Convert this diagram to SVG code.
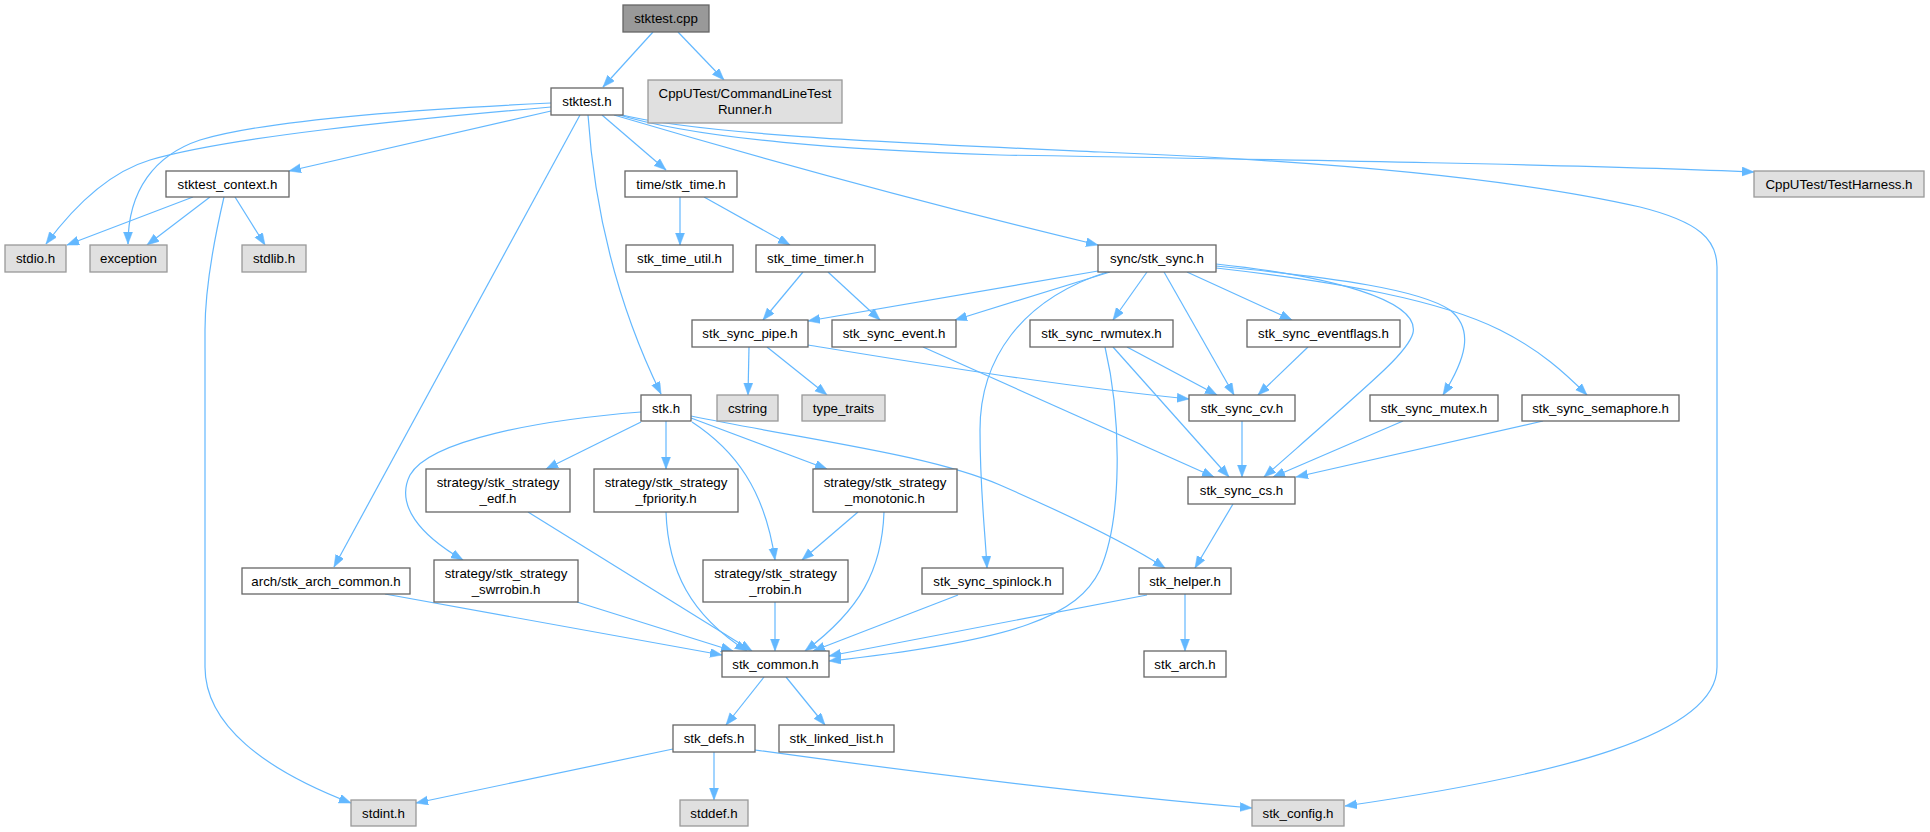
<svg xmlns="http://www.w3.org/2000/svg" width="1930" height="832" viewBox="0 0 1930 832">
<style>
text{font-family:"Liberation Sans",Arial,sans-serif;font-size:13.3px;text-anchor:middle;fill:#000}
.n rect{fill:#fff;stroke:#666;stroke-width:1.3}
.x rect{fill:#e0e0e0;stroke:#999;stroke-width:1.3}
.r rect{fill:#999;stroke:#666;stroke-width:1.3}
#edges path{fill:none;stroke:#63b8ff;stroke-width:1.2;marker-end:url(#a)}
</style>
<defs>
<marker id="a" markerUnits="userSpaceOnUse" markerWidth="13" markerHeight="10" refX="12" refY="4.5" orient="auto">
<path d="M0,0 L12,4.5 L0,9 z" fill="#63b8ff" stroke="#63b8ff" stroke-width="0.5"/>
</marker>
</defs>
<rect width="1930" height="832" fill="#fff"/>
<g id="edges">
<path d="M653,32 L603,87"/>
<path d="M678,32 L724,80"/>
<path d="M551,103 C400,110 260,122 200,140 C155,155 128,190 128,244"/>
<path d="M551,107 C400,120 230,137 150,160 C110,172 75,205 46,244"/>
<path d="M551,111 L289,171"/>
<path d="M580,115 L334,567"/>
<path d="M588,115 C595,220 620,310 661,394"/>
<path d="M602,115 L666,170"/>
<path d="M614,115 C800,170 960,212 1098,245"/>
<path d="M616,114 C700,140 850,150 1000,155 C1300,160 1600,165 1754,172"/>
<path d="M618,114 C700,135 900,143 1100,152 C1300,160 1500,175 1640,207 C1700,222 1717,240 1717,267 L1717,667 C1717,735 1560,775 1345,806"/>
<path d="M193,197 L67,245"/>
<path d="M210,197 L147,245"/>
<path d="M235,197 L265,245"/>
<path d="M224,197 C214,240 205,290 205,330 L205,667 C205,725 265,770 351,803"/>
<path d="M680,197 L680,245"/>
<path d="M704,197 L790,245"/>
<path d="M803,272 L763,320"/>
<path d="M828,272 L880,320"/>
<path d="M1098,271 L808,321"/>
<path d="M1110,272 L955,320"/>
<path d="M1147,272 L1113,320"/>
<path d="M1164,272 L1234,395"/>
<path d="M1187,272 L1292,320"/>
<path d="M1216,264 C1330,276 1420,300 1413,333 C1408,352 1380,375 1264,477"/>
<path d="M1216,266 C1340,278 1420,290 1450,310 C1475,330 1465,360 1443,395"/>
<path d="M1216,268 C1340,282 1440,300 1500,330 C1540,350 1565,373 1587,395"/>
<path d="M1107,272 C1020,300 980,360 980,430 C980,490 985,530 987,568"/>
<path d="M749,347 L748,395"/>
<path d="M767,347 L827,395"/>
<path d="M808,345 C900,360 1050,385 1189,399"/>
<path d="M923,347 L1214,477"/>
<path d="M1127,347 L1217,395"/>
<path d="M1113,347 L1229,477"/>
<path d="M1105,347 C1122,420 1122,520 1100,570 C1078,615 1020,640 829,661"/>
<path d="M1308,347 L1258,395"/>
<path d="M1242,421 L1242,477"/>
<path d="M1403,421 L1273,477"/>
<path d="M1543,421 L1296,477"/>
<path d="M1233,504 L1195,568"/>
<path d="M641,412 C540,420 430,440 410,475 C395,505 420,535 463,560"/>
<path d="M641,422 L546,469"/>
<path d="M666,421 L666,469"/>
<path d="M692,422 C735,450 765,490 775,560"/>
<path d="M691,418 L827,469"/>
<path d="M691,416 C820,442 930,455 1000,485 C1080,520 1130,545 1165,568"/>
<path d="M528,512 L752,651"/>
<path d="M666,512 C668,570 690,615 747,651"/>
<path d="M858,512 L802,560"/>
<path d="M884,512 C882,570 860,610 805,651"/>
<path d="M775,602 L775,651"/>
<path d="M577,602 L733,651"/>
<path d="M385,594 L722,655"/>
<path d="M958,595 L813,651"/>
<path d="M1147,595 L829,656"/>
<path d="M1185,594 L1185,651"/>
<path d="M764,677 L726,725"/>
<path d="M786,677 L825,725"/>
<path d="M714,752 L714,800"/>
<path d="M673,749 L416,803"/>
<path d="M755,750 C900,770 1100,795 1252,808"/>
</g>
<g id="n_stktest_cpp" class="r"><rect x="623" y="5" width="86" height="27"/><text x="666" y="23">stktest.cpp</text></g>
<g id="n_stktest_h" class="n"><rect x="551" y="88" width="72" height="27"/><text x="587" y="106">stktest.h</text></g>
<g id="n_cltr" class="x"><rect x="648" y="80" width="194" height="43"/><text x="745" y="98.3">CppUTest/CommandLineTest</text><text x="745" y="114.3">Runner.h</text></g>
<g id="n_context" class="n"><rect x="166" y="171" width="123" height="26"/><text x="227.5" y="188.5">stktest_context.h</text></g>
<g id="n_time" class="n"><rect x="625" y="171" width="112" height="26"/><text x="681" y="188.5">time/stk_time.h</text></g>
<g id="n_harness" class="x"><rect x="1754" y="171" width="170" height="26"/><text x="1839" y="188.5">CppUTest/TestHarness.h</text></g>
<g id="n_stdio" class="x"><rect x="5" y="245" width="61" height="27"/><text x="35.5" y="263">stdio.h</text></g>
<g id="n_exception" class="x"><rect x="90" y="245" width="77" height="27"/><text x="128.5" y="263">exception</text></g>
<g id="n_stdlib" class="x"><rect x="242" y="245" width="64" height="27"/><text x="274" y="263">stdlib.h</text></g>
<g id="n_time_util" class="n"><rect x="626" y="245" width="107" height="27"/><text x="679.5" y="263">stk_time_util.h</text></g>
<g id="n_time_timer" class="n"><rect x="756" y="245" width="119" height="27"/><text x="815.5" y="263">stk_time_timer.h</text></g>
<g id="n_sync" class="n"><rect x="1098" y="245" width="118" height="27"/><text x="1157" y="263">sync/stk_sync.h</text></g>
<g id="n_pipe" class="n"><rect x="692" y="320" width="116" height="27"/><text x="750" y="338">stk_sync_pipe.h</text></g>
<g id="n_event" class="n"><rect x="832" y="320" width="124" height="27"/><text x="894" y="338">stk_sync_event.h</text></g>
<g id="n_rwmutex" class="n"><rect x="1030" y="320" width="143" height="27"/><text x="1101.5" y="338">stk_sync_rwmutex.h</text></g>
<g id="n_eventflags" class="n"><rect x="1247" y="320" width="153" height="27"/><text x="1323.5" y="338">stk_sync_eventflags.h</text></g>
<g id="n_stk" class="n"><rect x="641" y="395" width="50" height="26"/><text x="666" y="412.5">stk.h</text></g>
<g id="n_cstring" class="x"><rect x="717" y="395" width="61" height="26"/><text x="747.5" y="412.5">cstring</text></g>
<g id="n_type_traits" class="x"><rect x="802" y="395" width="83" height="26"/><text x="843.5" y="412.5">type_traits</text></g>
<g id="n_cv" class="n"><rect x="1189" y="395" width="106" height="26"/><text x="1242" y="412.5">stk_sync_cv.h</text></g>
<g id="n_mutex" class="n"><rect x="1370" y="395" width="128" height="26"/><text x="1434" y="412.5">stk_sync_mutex.h</text></g>
<g id="n_semaphore" class="n"><rect x="1522" y="395" width="157" height="26"/><text x="1600.5" y="412.5">stk_sync_semaphore.h</text></g>
<g id="n_edf" class="n"><rect x="426" y="469" width="144" height="43"/><text x="498" y="487.3">strategy/stk_strategy</text><text x="498" y="503.3">_edf.h</text></g>
<g id="n_fpriority" class="n"><rect x="594" y="469" width="144" height="43"/><text x="666" y="487.3">strategy/stk_strategy</text><text x="666" y="503.3">_fpriority.h</text></g>
<g id="n_monotonic" class="n"><rect x="813" y="469" width="144" height="43"/><text x="885" y="487.3">strategy/stk_strategy</text><text x="885" y="503.3">_monotonic.h</text></g>
<g id="n_cs" class="n"><rect x="1188" y="477" width="107" height="27"/><text x="1241.5" y="495">stk_sync_cs.h</text></g>
<g id="n_arch_common" class="n"><rect x="242" y="568" width="168" height="26"/><text x="326" y="585.5">arch/stk_arch_common.h</text></g>
<g id="n_swrrobin" class="n"><rect x="434" y="560" width="144" height="42"/><text x="506" y="577.8">strategy/stk_strategy</text><text x="506" y="593.8">_swrrobin.h</text></g>
<g id="n_rrobin" class="n"><rect x="703" y="560" width="145" height="42"/><text x="775.5" y="577.8">strategy/stk_strategy</text><text x="775.5" y="593.8">_rrobin.h</text></g>
<g id="n_spinlock" class="n"><rect x="922" y="568" width="141" height="26"/><text x="992.5" y="585.5">stk_sync_spinlock.h</text></g>
<g id="n_helper" class="n"><rect x="1139" y="568" width="92" height="26"/><text x="1185" y="585.5">stk_helper.h</text></g>
<g id="n_common" class="n"><rect x="722" y="651" width="107" height="26"/><text x="775.5" y="668.5">stk_common.h</text></g>
<g id="n_arch" class="n"><rect x="1144" y="651" width="82" height="26"/><text x="1185" y="668.5">stk_arch.h</text></g>
<g id="n_defs" class="n"><rect x="673" y="725" width="82" height="27"/><text x="714" y="743">stk_defs.h</text></g>
<g id="n_linked_list" class="n"><rect x="779" y="725" width="115" height="27"/><text x="836.5" y="743">stk_linked_list.h</text></g>
<g id="n_stdint" class="x"><rect x="351" y="800" width="65" height="26"/><text x="383.5" y="817.5">stdint.h</text></g>
<g id="n_stddef" class="x"><rect x="680" y="800" width="68" height="26"/><text x="714" y="817.5">stddef.h</text></g>
<g id="n_config" class="x"><rect x="1252" y="800" width="92" height="26"/><text x="1298" y="817.5">stk_config.h</text></g>
</svg>
